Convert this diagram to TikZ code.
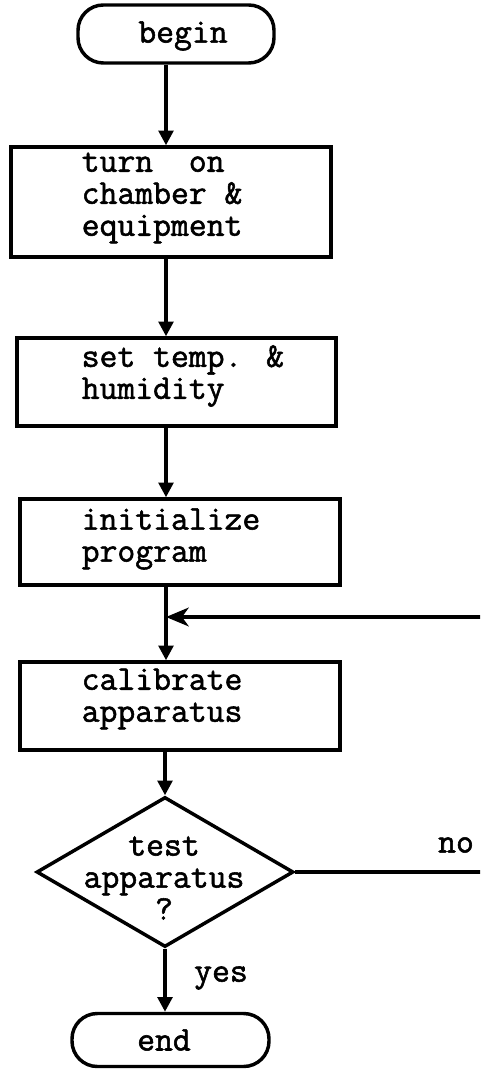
\documentclass[tikz,border=0pt]{standalone}
\usepackage{fontspec}
\newfontfamily\typew{Latin Modern Mono}[FakeBold=1.6]
\usetikzlibrary{arrows.meta,shapes.geometric}
\begin{document}
\begin{tikzpicture}[x=0.75pt,y=-0.75pt,
  line width=2.6pt,
  every node/.style={font=\typew\fontsize{26}{24}\selectfont},
  term/.style={draw, rectangle, rounded corners=19pt, inner sep=0pt},
  proc/.style={draw, rectangle, inner sep=0pt},
  decision/.style={draw, diamond, inner sep=0pt},
  txt/.style={anchor=west, align=left, inner sep=0pt},
  arr/.style={-{Triangle[length=11pt,width=11pt]}},
  backarr/.style={-{Stealth[length=17pt,width=14pt,inset=5pt]}},
]
\clip (0,0) rectangle (480,1069);

% main column
\coordinate (spine) at (166,0);
\node[term, minimum width=147pt, minimum height=43.5pt] (begin) at (176,34) {};
\node[inner sep=0pt] (tbegin) at (183,36) {begin};

\node[proc, minimum width=240pt, minimum height=82.5pt] (box1) at (171,202) {};
\node[txt] (t1) at (80,198) {turn\ \ on\\chamber \&\\equipment};

\node[proc, minimum width=239.25pt, minimum height=66pt] (box2) at (176.5,382) {};
\node[txt] (t2) at (80,376) {set temp. \&\\humidity};

\node[proc, minimum width=240pt, minimum height=64.5pt] (box3) at (180,542) {};
\node[txt] (t3) at (80,539) {initialize\\program};

\node[proc, minimum width=240pt, minimum height=66pt] (box4) at (180,706) {};
\node[txt] (t4) at (80,699) {calibrate\\apparatus};

\node[decision, minimum width=192.75pt, minimum height=112.5pt] (test) at (165,872) {};
\node[align=center, inner sep=0pt] (testtext) at (164,878) {test\\apparatus\\?};

\node[term, minimum width=147.75pt, minimum height=39.75pt] (end) at (170.5,1040) {};
\node[inner sep=0pt] (tend) at (164,1040) {end};

% branch labels
\node (no) at (456,845) {no};
\node (yes) at (221,978) {yes};

% connectors
\coordinate (join) at (166,617);
\coordinate (loopx) at (486,0);
\draw[arr] (begin.south -| spine) -- (box1.north -| spine);
\draw[arr] (box1.south -| spine) -- (box2.north -| spine);
\draw[arr] (box2.south -| spine) -- (box3.north -| spine);
\draw[arr] (box3.south -| spine) -- (box4.north -| spine);
\draw[arr] (box4.south -| test.north) -- (test.north);
\draw[arr] (test.south) -- (end.north -| test.south);
\draw[backarr] (test.east) -- (test.east -| loopx) -- (join -| loopx) -- (join);
\end{tikzpicture}
\end{document}
